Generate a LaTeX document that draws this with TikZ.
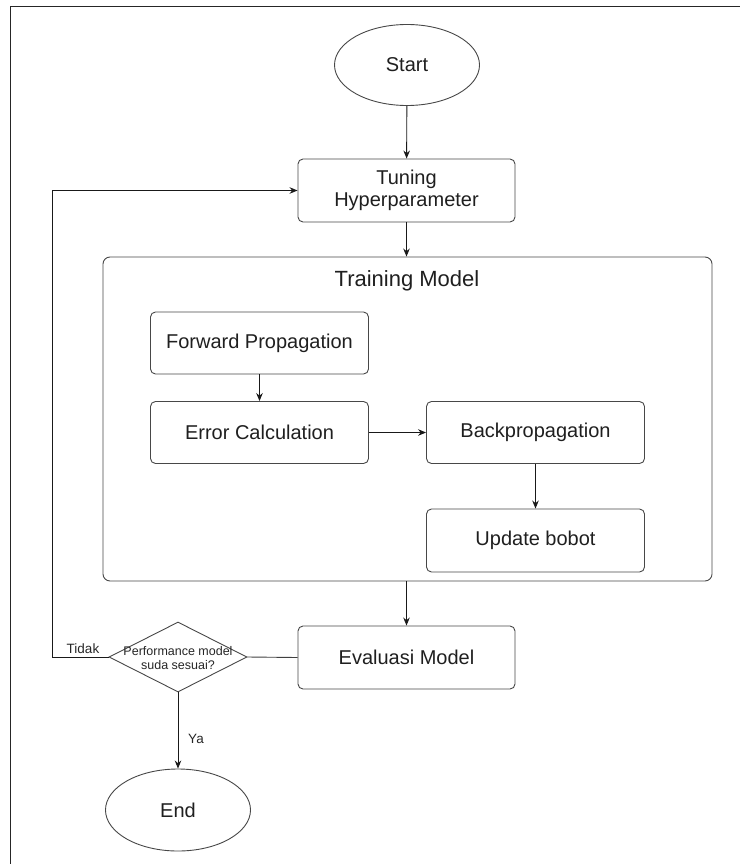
\documentclass[tikz,border=0pt]{standalone}
\usepackage{fontspec}
\setmainfont{Liberation Sans}
\usetikzlibrary{shapes.geometric,arrows.meta}

\tikzset{
  box/.style={draw=black!72, line width=0.9pt, rounded corners=5pt,
    minimum width=218pt, minimum height=62pt, inner sep=0pt,
    align=center, text=black!88, font=\fontsize{20}{22}\selectfont},
  term/.style={ellipse, draw=black!72, line width=0.9pt,
    minimum width=145pt, minimum height=81pt, inner sep=0pt,
    text=black!88, font=\fontsize{20}{22}\selectfont},
  arr/.style={draw=black!90, line width=0.9pt, -{Stealth[length=8pt,width=6.5pt]}},
  ln/.style={draw=black!75, line width=0.9pt},
  small/.style={text=black!85, font=\fontsize{13.5}{15}\selectfont, inner sep=0pt}
}

\begin{document}
\begin{tikzpicture}[x=1pt,y=-1pt]
  \useasboundingbox (0,0) rectangle (740,864);

  % page frame
  \draw[line width=1.8pt, black!85] (10.5,864) -- (10.5,6.5) -- (740,6.5);

  % main flow
  \node[term] (start) at (407,65) {Start};
  \node[box, minimum width=217pt, minimum height=63pt] (tune) at (406.5,190.5)
    {Tuning\\Hyperparameter};

  % training block
  \node[draw=black!72, line width=0.9pt, rounded corners=7pt, inner sep=0pt,
        minimum width=609pt, minimum height=324pt] (train) at (407.5,419) {};
  \node[text=black!88, font=\fontsize{22}{24}\selectfont] (traintitle) at (407,281) {Training Model};

  \node[box] (fwd)  at (259.5,343)   {Forward Propagation};
  \node[box] (err)  at (259.5,432.5) {Error Calculation};
  \node[box] (back) at (535.5,432.5) {Backpropagation};
  \node[box, minimum height=63pt] (upd) at (535.5,540.5) {Update bobot};

  % evaluation and decision
  \node[box, minimum width=217pt, minimum height=63pt] (eval) at (406.5,657.5) {Evaluasi Model};
  \node[diamond, draw=black!72, line width=0.9pt, inner sep=0pt,
        minimum width=138pt, minimum height=70pt] (dec) at (178,657) {};
  \node[text=black!85, align=center, font=\fontsize{12.5}{14}\selectfont, inner sep=0pt]
    (dectext) at (178,658) {Performance model\\suda sesuai?};
  \node[term, minimum height=82pt] (end) at (178,810) {End};

  % connectors
  \draw[arr] (start) -- (tune);
  \draw[arr] (tune) -- (train.north -| tune);
  \draw[arr] (fwd) -- (err);
  \draw[arr] (err) -- (back);
  \draw[arr] (back) -- (upd);
  \draw[arr] (train.south -| eval) -- (eval);
  \draw[ln] (eval.west) -- (dec.east);
  \coordinate (loopcorner) at (52,657);
  \draw[arr] (dec.west) -- (loopcorner) |- (tune.west);
  \draw[arr] (dec.south) -- (end.north);

  % branch labels
  \node[small] (tidak) at (83,649) {Tidak};
  \node[small] (ya) at (196,739) {Ya};
\end{tikzpicture}
\end{document}
